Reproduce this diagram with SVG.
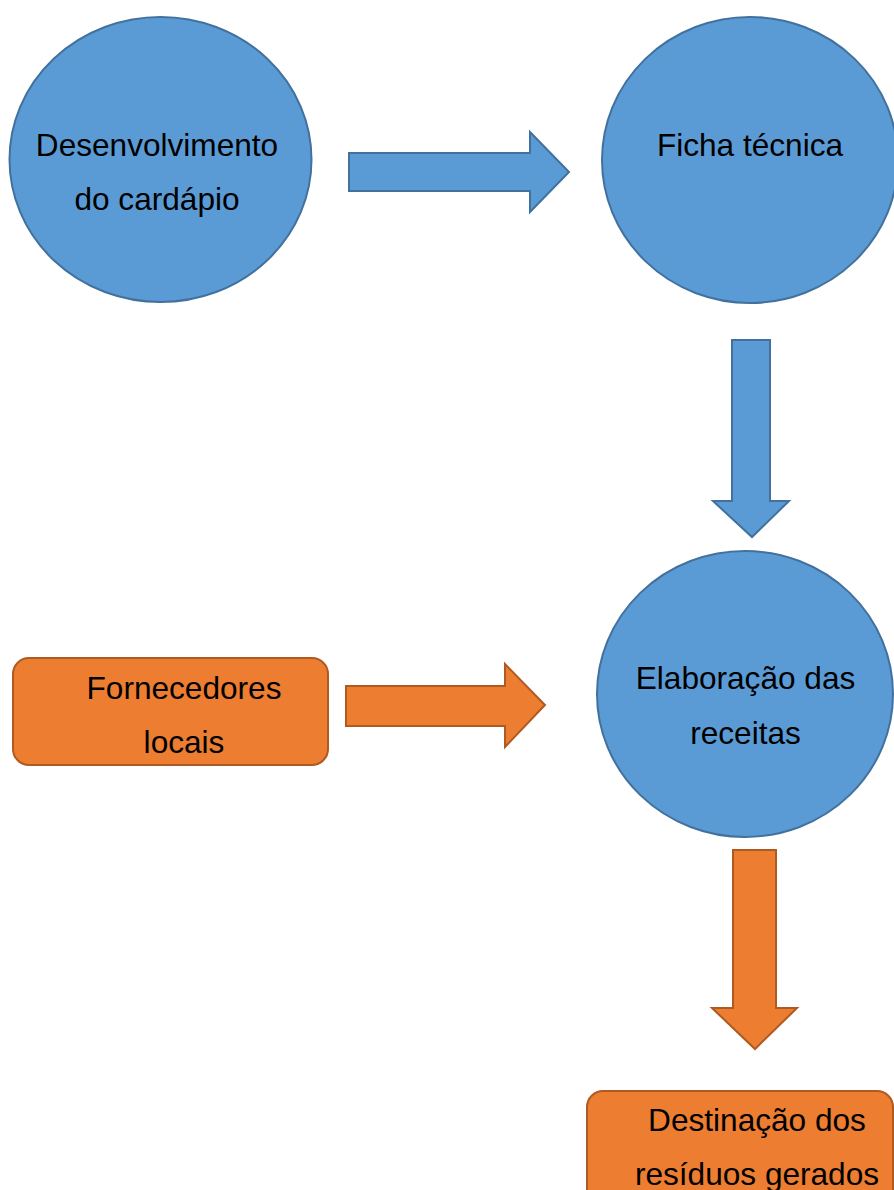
<svg xmlns="http://www.w3.org/2000/svg" width="894" height="1190" viewBox="0 0 894 1190">
<style>
.blue{fill:#5B9BD5;stroke:#41719C;stroke-width:2}
.orange{fill:#ED7D31;stroke:#AE5A21;stroke-width:2}
text{font-family:"Liberation Sans",Arial,sans-serif;font-size:31.6px;fill:#000;text-anchor:middle}
</style>
<rect width="894" height="1190" fill="#fff"/>
<g id="connectors">
<polygon class="blue" points="349,153 530,153 530,132 569,172 530,212 530,191 349,191"/>
<polygon class="blue" points="732,340 770,340 770,501 789,501 752,537 713,501 732,501"/>
<polygon class="orange" points="346,686 505,686 505,664 545,705 505,747 505,726 346,726"/>
<polygon class="orange" points="733,850 776,850 776,1008 797,1008 755,1049 712,1008 733,1008"/>
</g>
<g id="n1">
<ellipse class="blue" cx="160.5" cy="159.5" rx="151" ry="142.5"/>
<text x="157" y="156">Desenvolvimento</text>
<text x="157" y="210">do cardápio</text>
</g>
<g id="n2">
<ellipse class="blue" cx="750" cy="160" rx="148" ry="143"/>
<text x="750" y="156">Ficha técnica</text>
</g>
<g id="n3">
<ellipse class="blue" cx="745" cy="694" rx="148" ry="143"/>
<text x="745.5" y="689">Elaboração das</text>
<text x="745.5" y="744">receitas</text>
</g>
<g id="n4">
<rect class="orange" x="13" y="658" width="315" height="107" rx="16"/>
<text x="184" y="699">Fornecedores</text>
<text x="184" y="753">locais</text>
</g>
<g id="n5">
<rect class="orange" x="587" y="1091" width="306" height="130" rx="16"/>
<text x="757" y="1131">Destinação dos</text>
<text x="757" y="1185">resíduos gerados</text>
</g>
</svg>
